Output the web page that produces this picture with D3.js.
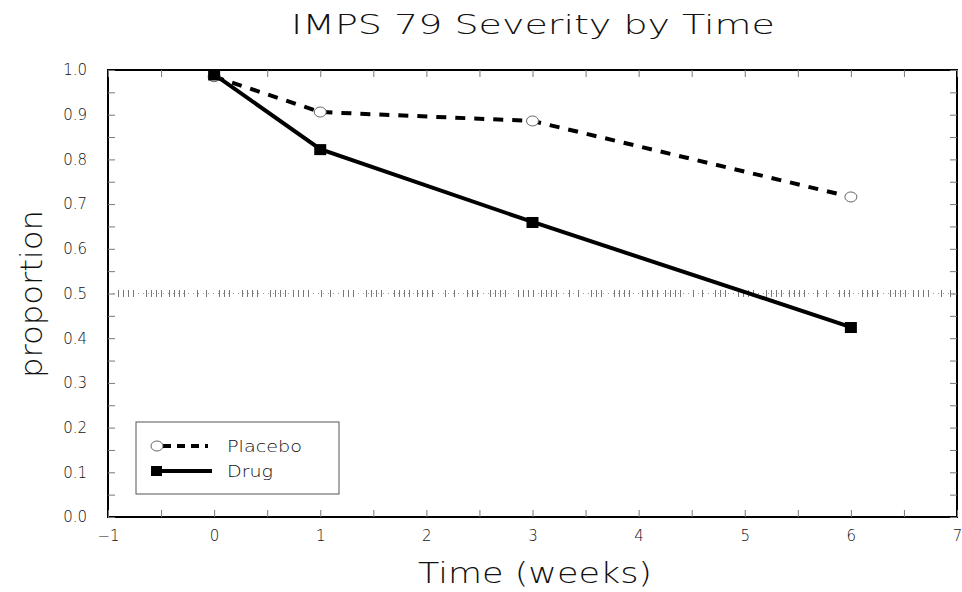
<!DOCTYPE html>
<html>
 <head>
  <title>IMPS 79 Severity by Time</title>
  <style>
  body { margin: 0; background: #fff; }
  svg { font-family: "DejaVu Sans", sans-serif; }
  </style>
  <script src="https://cdnjs.cloudflare.com/ajax/libs/d3/7.8.3/d3.min.js"></script>
 </head>
 <body>
  <script>
   const weeks = [0, 1, 3, 6];
   const placebo = [0.985, 0.906, 0.886, 0.716];
   const drug = [0.99, 0.823, 0.66, 0.425];
   const xTicks = [-1, 0, 1, 2, 3, 4, 5, 6, 7];
   const yTicks = [0.0, 0.1, 0.2, 0.3, 0.4, 0.5, 0.6, 0.7, 0.8, 0.9, 1.0];

   const w = 962, h = 592;
   const padL = 108, padR = 957, padT = 70, padB = 517;

   const x = d3.scaleLinear().domain([-1, 7]).range([padL, padR]);
   const y = d3.scaleLinear().domain([0, 1]).range([padB, padT]);

   const svg = d3.select("body").append("svg")
     .attr("width", w).attr("height", h);

   // title
   svg.append("text")
     .attr("x", 291).attr("y", 34)
     .attr("font-size", 27).attr("font-weight", 200)
     .attr("textLength", 484).attr("lengthAdjust", "spacingAndGlyphs")
     .attr("fill", "#111")
     .text("IMPS 79 Severity by Time");

   // reference line at 0.5 (dotted with bar clusters)
   svg.append("line")
     .attr("x1", padL).attr("x2", padR)
     .attr("y1", y(0.5)).attr("y2", y(0.5))
     .attr("stroke", "#999").attr("stroke-width", 1)
     .attr("stroke-dasharray", "1,4");
   svg.append("line")
     .attr("x1", padL + 10).attr("x2", padR)
     .attr("y1", y(0.5)).attr("y2", y(0.5))
     .attr("stroke", "#777").attr("stroke-width", 7)
     .attr("stroke-dasharray", "1,4,1,4,1,4,1,12,1,4,1,4,1,4,1,7,1,4,1,4,1,4,1,12,1,8,1,12,1,4,1,4,1,12");

   // frame
   svg.append("rect")
     .attr("x", padL).attr("y", padT)
     .attr("width", padR - padL).attr("height", padB - padT)
     .attr("fill", "none").attr("stroke", "#000").attr("stroke-width", 2);

   // axes (ticks inside)
   const xMinor = d3.range(-1, 7.01, 0.5);
   const yMinor = d3.range(0, 1.001, 0.05);
   svg.append("g")
     .attr("transform", "translate(0," + padB + ")")
     .call(d3.axisTop(x).tickValues(xMinor).tickSize(7).tickFormat(""))
     .call(g => g.select(".domain").remove())
     .selectAll("line").attr("stroke", "#777");
   svg.append("g")
     .attr("transform", "translate(0," + padT + ")")
     .call(d3.axisBottom(x).tickValues(xMinor).tickSize(7).tickFormat(""))
     .call(g => g.select(".domain").remove())
     .selectAll("line").attr("stroke", "#777");
   svg.append("g")
     .attr("transform", "translate(" + padL + ",0)")
     .call(d3.axisRight(y).tickValues(yMinor).tickSize(7).tickFormat(""))
     .call(g => g.select(".domain").remove())
     .selectAll("line").attr("stroke", "#777");
   svg.append("g")
     .attr("transform", "translate(" + padR + ",0)")
     .call(d3.axisLeft(y).tickValues(yMinor).tickSize(7).tickFormat(""))
     .call(g => g.select(".domain").remove())
     .selectAll("line").attr("stroke", "#777");

   // tick labels
   svg.append("g")
     .attr("transform", "translate(0," + padB + ")")
     .call(d3.axisBottom(x).tickValues(xTicks).tickSize(0).tickPadding(13).tickFormat(d => d < 0 ? "\u2212" + (-d) : d))
     .call(g => g.select(".domain").remove())
     .selectAll("text").attr("font-size", 15).attr("font-family", "DejaVu Sans").attr("font-weight", 200).attr("fill", "#111");
   svg.append("g")
     .attr("transform", "translate(" + padL + ",0)")
     .call(d3.axisLeft(y).tickValues(yTicks).tickSize(0).tickPadding(21).tickFormat(d3.format(".1f")))
     .call(g => g.select(".domain").remove())
     .selectAll("text").attr("font-size", 15).attr("font-family", "DejaVu Sans").attr("font-weight", 200).attr("fill", "#111");

   // axis titles
   svg.append("text")
     .attr("x", 418).attr("y", 583)
     .attr("font-size", 28).attr("font-weight", 200)
     .attr("textLength", 234).attr("lengthAdjust", "spacingAndGlyphs")
     .attr("fill", "#111")
     .text("Time (weeks)");
   svg.append("text")
     .attr("transform", "translate(42,378) rotate(-90)")
     .attr("font-size", 30).attr("font-weight", 200)
     .attr("textLength", 168).attr("lengthAdjust", "spacingAndGlyphs")
     .attr("fill", "#111")
     .text("proportion");

   // series
   const line = d3.line().x(d => x(d[0])).y(d => y(d[1]));
   const pData = weeks.map((t, i) => [t, placebo[i]]);
   const dData = weeks.map((t, i) => [t, drug[i]]);

   svg.append("path").datum(pData)
     .attr("d", line).attr("fill", "none")
     .attr("stroke", "#000").attr("stroke-width", 4)
     .attr("stroke-dasharray", "10,9");
   svg.append("path").datum(dData)
     .attr("d", line).attr("fill", "none")
     .attr("stroke", "#000").attr("stroke-width", 4);

   svg.selectAll(".pt").data(pData).enter().append("ellipse")
     .attr("class", "pt")
     .attr("cx", d => x(d[0])).attr("cy", d => y(d[1]))
     .attr("rx", 6).attr("ry", 5)
     .attr("fill", "#fff").attr("stroke", "#666").attr("stroke-width", 1);
   svg.selectAll(".dt").data(dData).enter().append("rect")
     .attr("class", "dt")
     .attr("x", d => x(d[0]) - 6).attr("y", d => y(d[1]) - 5)
     .attr("width", 12).attr("height", 11)
     .attr("fill", "#000");

   // legend
   const leg = [["Placebo", "8,6", 75], ["Drug", null, 46]];
   const legend = svg.append("g").attr("id", "legend");
   legend.append("rect")
     .attr("x", 136).attr("y", 422).attr("width", 203).attr("height", 72)
     .attr("fill", "#fff").attr("stroke", "#555").attr("stroke-width", 1);
   legend.selectAll("line").data(leg).enter().append("line")
     .attr("x1", (d, i) => i === 0 ? 163 : 152).attr("x2", (d, i) => i === 0 ? 208 : 212)
     .attr("y1", (d, i) => 446 + 25 * i).attr("y2", (d, i) => 446 + 25 * i)
     .attr("stroke", "#000").attr("stroke-width", 4)
     .attr("stroke-dasharray", d => d[1]);
   legend.append("ellipse")
     .attr("cx", 157).attr("cy", 446).attr("rx", 6).attr("ry", 5)
     .attr("fill", "#fff").attr("stroke", "#666");
   legend.append("rect")
     .attr("x", 151).attr("y", 466).attr("width", 11).attr("height", 10).attr("fill", "#000");
   legend.selectAll("text").data(leg).enter().append("text")
     .attr("x", 227).attr("y", (d, i) => 452 + 25 * i)
     .attr("font-size", 15).attr("font-weight", 200).attr("fill", "#111")
     .attr("textLength", d => d[2]).attr("lengthAdjust", "spacingAndGlyphs")
     .text(d => d[0]);
  </script>
 </body>
</html>
